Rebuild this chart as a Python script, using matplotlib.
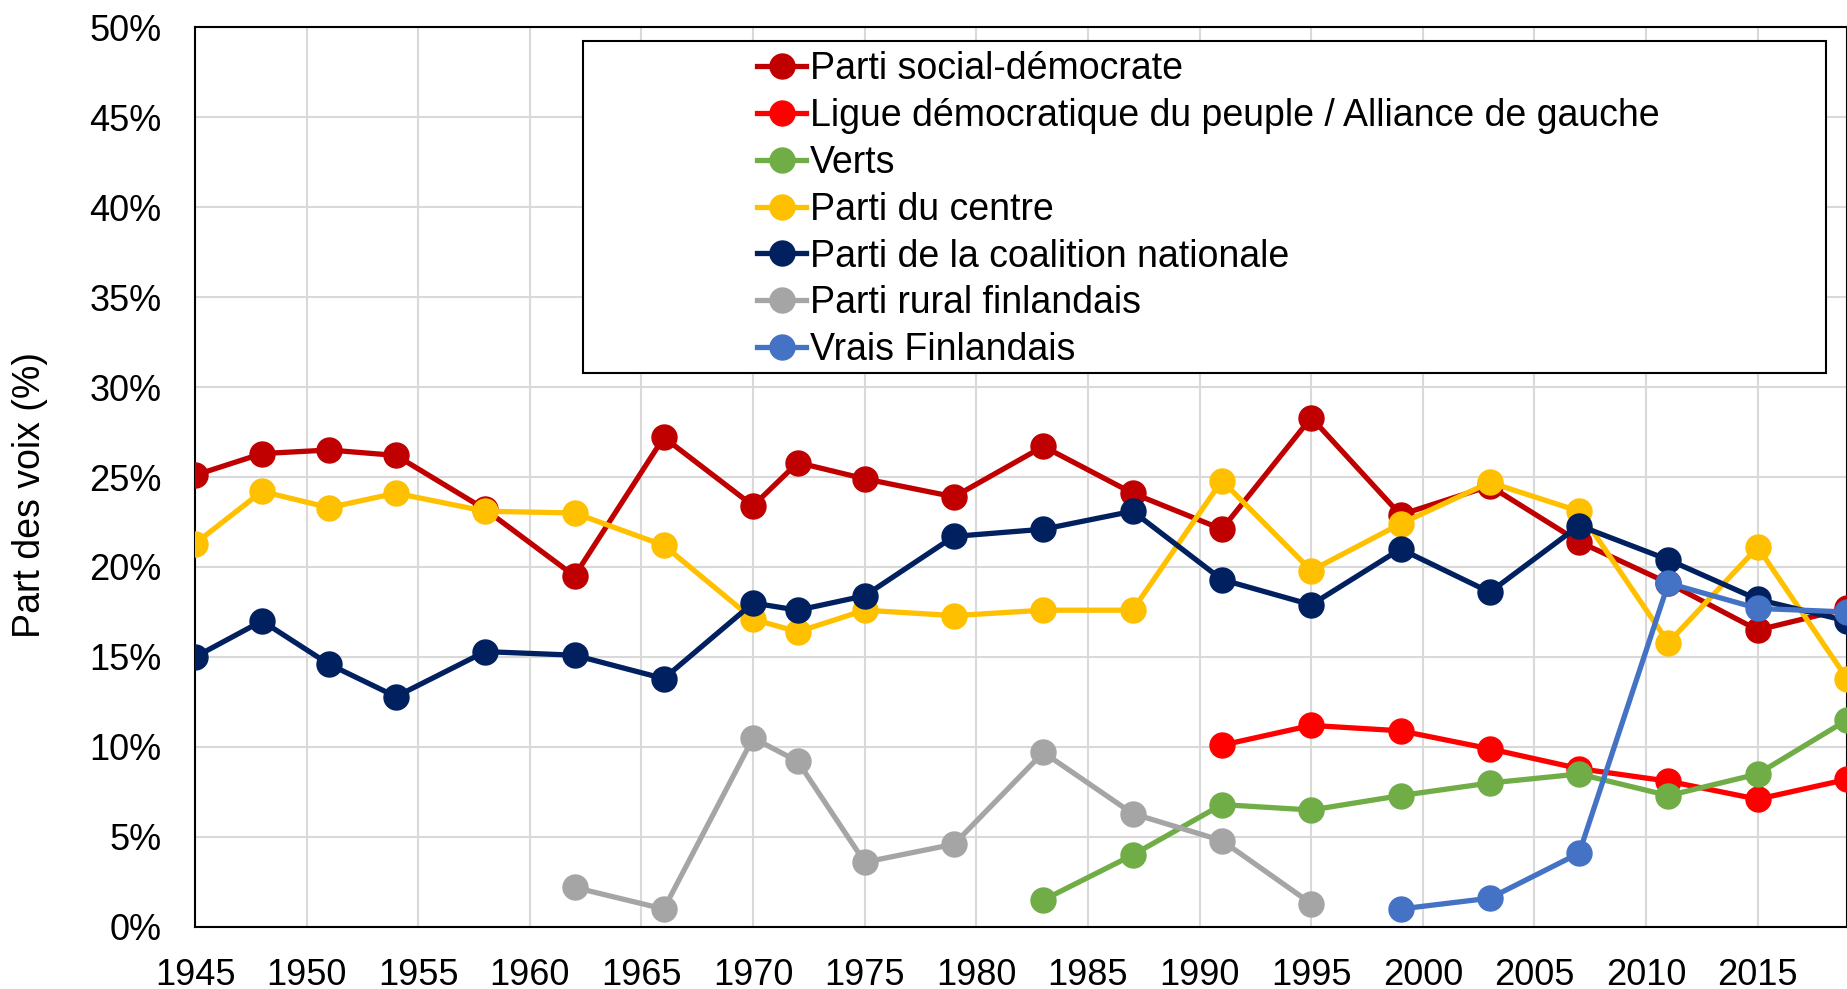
import numpy as np
import matplotlib
matplotlib.use('Agg')
import matplotlib.pyplot as plt
from matplotlib.patches import Rectangle
from matplotlib.ticker import PercentFormatter

years = [1945, 1948, 1951, 1954, 1958, 1962, 1966, 1970, 1972, 1975, 1979,
         1983, 1987, 1991, 1995, 1999, 2003, 2007, 2011, 2015, 2019]

# part des voix (%) ; None = pas de valeur
sdp = [25.1, 26.3, 26.5, 26.2, 23.2, 19.5, 27.2, 23.4, 25.8, 24.9, 23.9,
       26.7, 24.1, 22.1, 28.3, 22.9, 24.5, 21.4, 19.1, 16.5, 17.7]
gauche = [None]*13 + [10.1, 11.2, 10.9, 9.9, 8.8, 8.1, 7.1, 8.2]
verts = [None]*11 + [1.5, 4.0, 6.8, 6.5, 7.3, 8.0, 8.5, 7.3, 8.5, 11.5]
centre = [21.3, 24.2, 23.3, 24.1, 23.1, 23.0, 21.2, 17.1, 16.4, 17.6, 17.3,
          17.6, 17.6, 24.8, 19.8, 22.4, 24.7, 23.1, 15.8, 21.1, 13.8]
coalition = [15.0, 17.0, 14.6, 12.8, 15.3, 15.1, 13.8, 18.0, 17.6, 18.4, 21.7,
             22.1, 23.1, 19.3, 17.9, 21.0, 18.6, 22.3, 20.4, 18.2, 17.0]
rural = [None]*5 + [2.2, 1.0, 10.5, 9.2, 3.6, 4.6, 9.7, 6.3, 4.8, 1.3] + [None]*6
vrais = [None]*15 + [1.0, 1.6, 4.1, 19.1, 17.7, 17.5]

labels = ['Parti social-démocrate',
          'Ligue démocratique du peuple / Alliance de gauche',
          'Verts', 'Parti du centre', 'Parti de la coalition nationale',
          'Parti rural finlandais', 'Vrais Finlandais']
couleurs = ['#C00000', '#FF0000', '#70AD47', '#FFC000', '#002060', '#A5A5A5', '#4472C4']
series = [sdp, gauche, verts, centre, coalition, rural, vrais]

plt.rcParams['font.family'] = ['Liberation Sans', 'DejaVu Sans']

W, H = 1847, 989
fig = plt.figure(figsize=(W/100, H/100), dpi=100)
ax = fig.add_axes([195/W, (H-927)/H, (W-195)/W, 900/H])

for vals, lab, col in zip(series, labels, couleurs):
    y = np.array([np.nan if v is None else v for v in vals], dtype=float)
    ax.plot(years, y, color=col, lw=3.8, marker='o', ms=18, label=lab, zorder=3)

ax.set_xlim(1945, 2019)
ax.set_ylim(0, 50)
ax.set_xticks(range(1945, 2020, 5))
ax.set_yticks(range(0, 51, 5))
ax.yaxis.set_major_formatter(PercentFormatter(decimals=0))
ax.grid(True, color='#D9D9D9', lw=1.5)
ax.set_axisbelow(True)
ax.tick_params(length=0, labelsize=26)
ax.tick_params(axis='x', pad=22)
ax.tick_params(axis='y', pad=24)
for s in ax.spines.values():
    s.set_color('black')
    s.set_linewidth(1.5)

ax.set_ylabel('Part des voix (%)', fontsize=27)
ax.yaxis.set_label_coords(-0.089, 0.48)

# cadre de légende façon Excel
ax.add_patch(Rectangle((0.235, 0.6156), 0.7523, 0.3684, transform=ax.transAxes,
                       facecolor='white', edgecolor='black', lw=1.5, zorder=4))
leg = ax.legend(loc='upper left', bbox_to_anchor=(0.331, 0.99), frameon=False,
                handlelength=1.32, handletextpad=0.1, labelspacing=0.29,
                borderaxespad=0, fontsize=27)
leg.set_zorder(5)

fig.savefig('out.png', dpi=100)
